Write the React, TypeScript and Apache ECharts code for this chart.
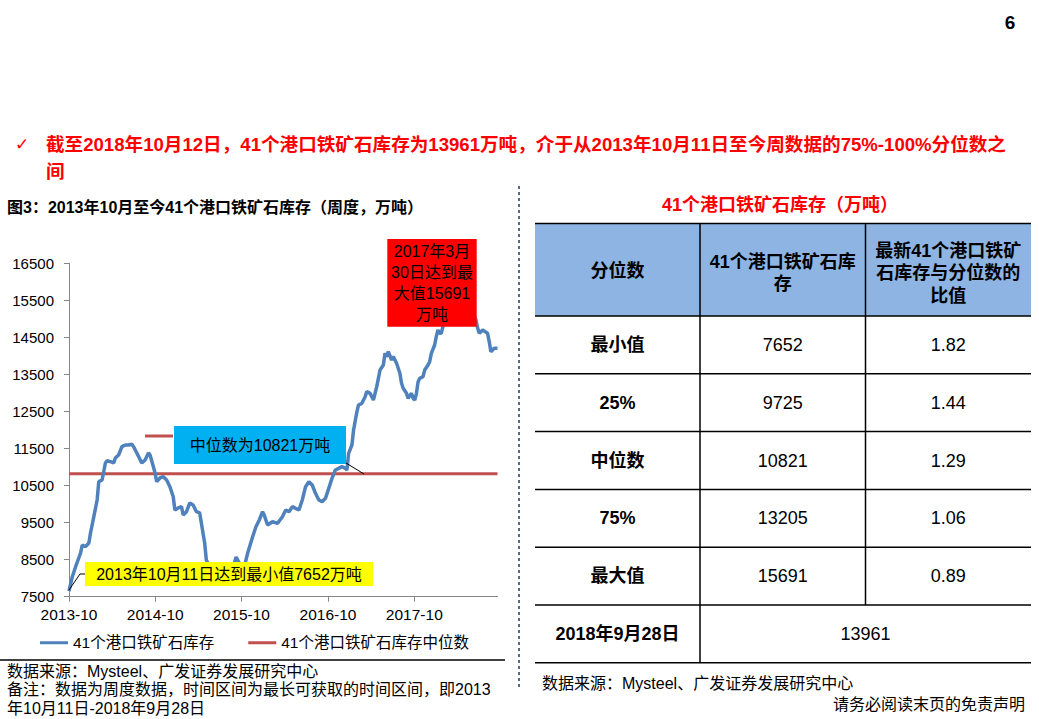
import React, { useEffect, useRef } from "react";
import * as echarts from "echarts";

// ---- Data ----
// weeks since 2013-10-11 and inventory (万吨)
const weekIndex = [
  0, 2, 4, 7, 8, 10, 12, 13, 15, 17,
  18, 20, 22, 23, 25, 27, 28, 30, 32, 34,
  36, 38, 39, 41, 44, 46, 48, 49, 51, 52,
  53, 55, 57, 59, 61, 63, 64, 66, 68, 69,
  71, 73, 75, 77, 79, 80, 82, 83, 85, 88,
  91, 95, 99, 101, 103, 106, 108, 111, 113, 115,
  117, 118, 120, 123, 126, 129, 131, 133, 135, 137,
  139, 141, 143, 145, 147, 149, 151, 153, 155, 157,
  159, 161, 163, 165, 167, 168, 169, 171, 172, 174,
  175, 177, 179, 180, 182, 184, 186, 188, 190, 191,
  192, 193, 195, 196, 198, 200, 201, 202, 204, 205,
  207, 208, 209, 210, 211, 212, 214, 215, 217, 218,
  219, 221, 222, 223, 224, 225, 226, 229, 232, 235,
  239, 242, 246, 247, 248, 250, 253, 254, 255, 257,
  259,
];
const inventory = [
  7652, 8040, 8310, 8680, 8896, 8850, 8950, 9220, 9660, 10110,
  10605, 10650, 11110, 11170, 11145, 11110, 11245, 11325, 11550, 11595,
  11595, 11620, 11550, 11380, 11110, 11190, 11380, 11325, 11010, 10840,
  10605, 10705, 10740, 10650, 10470, 10200, 9840, 9895, 9930, 9705,
  9795, 10030, 9975, 9795, 9760, 9490, 8950, 8490, 8310, 8110,
  8000, 8060, 8275, 8570, 8400, 8310, 8680, 9120, 9390, 9570,
  9795, 9705, 9435, 9525, 9480, 9660, 9840, 9795, 9930, 9885,
  9840, 10110, 10470, 10605, 10515, 10290, 10110, 10065, 10155, 10425,
  10700, 10920, 10965, 11010, 10965, 10920, 11370, 11595, 12000, 12490,
  12675, 12720, 12900, 13035, 12990, 12810, 13170, 13620, 13755, 14070,
  13980, 14115, 13890, 13980, 13800, 13530, 13260, 13125, 12990, 12855,
  12990, 12855, 12810, 12990, 13305, 13395, 13440, 13620, 13755, 13845,
  14070, 14295, 14520, 14700, 14610, 14610, 14790, 15240, 15510, 15691,
  15565, 15340, 14970, 14750, 14610, 14700, 14610, 14385, 14115, 14205,
  14205,
];
const medianValue = 10821;
const totalDays = 1813; // 2013-10-11 .. 2018-09-28
const xTickDays = [0, 365, 730, 1096, 1461];
const xTickLabels = ["2013-10", "2014-10", "2015-10", "2016-10", "2017-10"];
const seriesNames = ["41个港口铁矿石库存", "41个港口铁矿石库存中位数"];

const quantileLabels = ["最小值", "25%", "中位数", "75%", "最大值"];
const quantileValues = ["7652", "9725", "10821", "13205", "15691"];
const quantileRatios = ["1.82", "1.44", "1.29", "1.06", "0.89"];
const latestLabel = "2018年9月28日";
const latestValue = "13961";
const tableHeaders = ["分位数", "41个港口铁矿石库\n存", "最新41个港口铁矿\n石库存与分位数的\n比值"];

const FONT = '"Liberation Sans", "Noto Sans CJK SC", sans-serif';

function txt(text: string, x: number, y: number, o: any = {}) {
  return {
    type: "text",
    x,
    y,
    z: 20,
    style: {
      text,
      fill: o.fill || "#000",
      fontSize: o.size || 16,
      fontWeight: o.bold ? "bold" : "normal",
      fontFamily: o.family || FONT,
      textAlign: o.align || "left",
      align: o.align || "left",
      textVerticalAlign: "middle",
      verticalAlign: "middle",
      lineHeight: o.lh,
    },
  };
}
function ln(x1: number, y1: number, x2: number, y2: number, stroke = "#000", w = 1, dash?: number[]) {
  return {
    type: "line",
    z: 20,
    shape: { x1, y1, x2, y2 },
    style: { stroke, lineWidth: w, lineDash: dash },
  };
}
function rc(x: number, y: number, width: number, height: number, fill: string) {
  return { type: "rect", z: 15, shape: { x, y, width, height }, style: { fill } };
}

export default function App() {
  const ref = useRef<HTMLDivElement>(null);
  useEffect(() => {
    if (!ref.current) return;
    const chart = echarts.init(ref.current, undefined, { renderer: "svg" });

    // table geometry
    const tL = 535, tR = 1031, c1 = 700, c2 = 865.5, hT = 223.5, hB = 316, rowH = 57.8;
    const colC = [(tL + c1) / 2, (c1 + c2) / 2, (c2 + tR) / 2];
    const tableG: any[] = [];
    tableG.push(rc(tL, hT, tR - tL, hB - hT, "#8DB4E2"));
    tableG.push(txt(tableHeaders[0], colC[0], 271, { bold: true, size: 18, align: "center" }));
    tableG.push(txt(tableHeaders[1], colC[1], 273, { bold: true, size: 18, align: "center", lh: 22.3 }));
    tableG.push(txt(tableHeaders[2], colC[2], 273, { bold: true, size: 18, align: "center", lh: 22.5 }));
    for (let i = 0; i <= 6; i++) {
      const y = hB + i * rowH;
      tableG.push(ln(tL, y, tR, y, "#000", 1.5));
    }
    tableG.push(ln(tL, hT, tR, hT, "#000", 1.5));
    tableG.push(ln(c1, hT, c1, hB + 6 * rowH, "#000", 1.5));
    tableG.push(ln(c2, hT, c2, hB + 5 * rowH, "#000", 1.5));
    quantileLabels.forEach((lab, i) => {
      const cy = hB + (i + 0.5) * rowH;
      tableG.push(txt(lab, colC[0], cy, { bold: true, size: 18, align: "center" }));
      tableG.push(txt(quantileValues[i], colC[1], cy, { size: 18, align: "center" }));
      tableG.push(txt(quantileRatios[i], colC[2], cy, { size: 18, align: "center" }));
    });
    const lastY = hB + 5.5 * rowH;
    tableG.push(txt(latestLabel, colC[0], lastY, { bold: true, size: 18, align: "center" }));
    tableG.push(txt(latestValue, (c1 + tR) / 2, lastY, { size: 18, align: "center" }));

    const option: any = {
      animation: false,
      backgroundColor: "#fff",
      grid: { left: 69, top: 263.3, width: 428.5, height: 333.4, containLabel: false },
      legend: {
        left: 40,
        top: 635,
        padding: 0,
        icon: "rect",
        itemWidth: 28,
        itemHeight: 3,
        itemGap: 34,
        textStyle: { fontFamily: FONT, fontSize: 15.5, color: "#000" },
        data: seriesNames,
      },
      xAxis: {
        type: "value",
        min: 0,
        max: totalDays,
        axisLine: { show: true, lineStyle: { color: "#868686", width: 1 } },
        axisTick: { show: true, length: 5, customValues: xTickDays, lineStyle: { color: "#868686" } },
        axisLabel: {
          customValues: xTickDays,
          fontFamily: FONT,
          fontSize: 15.5,
          color: "#000",
          margin: 10,
          formatter: (v: number) => {
            const i = xTickDays.indexOf(v);
            return i >= 0 ? xTickLabels[i] : "";
          },
        },
        splitLine: { show: false },
      },
      yAxis: {
        type: "value",
        min: 7500,
        max: 16500,
        interval: 1000,
        axisLine: { show: true, lineStyle: { color: "#868686", width: 1 } },
        axisTick: { show: true, length: 5, lineStyle: { color: "#868686" } },
        axisLabel: {
          fontFamily: FONT,
          fontSize: 15,
          color: "#000",
          margin: 15,
          formatter: (v: number) => String(v),
        },
        splitLine: { show: false },
      },
      series: [
        {
          name: seriesNames[0],
          type: "line",
          color: "#4F81BD",
          symbol: "none",
          lineStyle: { color: "#4F81BD", width: 3.5 },
          data: weekIndex.map((w, i) => [w * 7, inventory[i]]),
          z: 3,
        },
        {
          name: seriesNames[1],
          type: "line",
          color: "#C0504D",
          symbol: "none",
          lineStyle: { color: "#C0504D", width: 3 },
          data: [
            [0, medianValue],
            [totalDays, medianValue],
          ],
          z: 2,
        },
      ],
      graphic: [
        txt("6", 1010, 22, { bold: true, size: 19, align: "center" }),
        txt("✓", 22, 144, { fill: "#FF0000", size: 17, family: '"DejaVu Sans"', align: "center" }),
        txt(
          "截至2018年10月12日，41个港口铁矿石库存为13961万吨，介于从2013年10月11日至今周数据的75%-100%分位数之",
          46, 144, { fill: "#FF0000", bold: true, size: 18.6 }
        ),
        txt("间", 46, 171, { fill: "#FF0000", bold: true, size: 18.6 }),
        txt("图3：2013年10月至今41个港口铁矿石库存（周度，万吨）", 7, 207, { bold: true, size: 16 }),
        ln(519, 186, 519, 690, "#1F3864", 1.5, [3, 3]),
        // annotations
        rc(85, 562, 288, 24, "#FFFF00"),
        txt("2013年10月11日达到最小值7652万吨", 229, 574, { size: 16, align: "center" }),
        ln(85, 574, 80, 574, "#000", 1),
        ln(80, 574, 69, 590, "#000", 1),
        rc(174, 426, 172, 38, "#00B0F0"),
        txt("中位数为10821万吨", 260, 445, { size: 16, align: "center" }),
        ln(346, 463, 364, 474, "#000", 1),
        ln(145, 436, 173, 436, "#C0504D", 3),
        rc(387.3, 239, 89.4, 87.7, "#FF0000"),
        txt("2017年3月\n30日达到最\n大值15691\n万吨", 432, 283, { size: 16, align: "center", lh: 20.8 }),
        // footnotes left
        ln(0, 660, 505, 660, "#000", 1.5),
        txt("数据来源：Mysteel、广发证券发展研究中心", 7, 671, { size: 16 }),
        txt("备注：数据为周度数据，时间区间为最长可获取的时间区间，即2013", 7, 689.5, { size: 16 }),
        txt("年10月11日-2018年9月28日", 7, 708.5, { size: 16 }),
        // right side
        txt("41个港口铁矿石库存（万吨）", 780, 205, { fill: "#FF0000", bold: true, size: 18, align: "center" }),
        ...tableG,
        txt("数据来源：Mysteel、广发证券发展研究中心", 542, 683, { size: 16 }),
        txt("请务必阅读末页的免责声明", 1025, 704, { size: 16, align: "right" }),
      ],
    };
    chart.setOption(option);
    return () => chart.dispose();
  }, []);
  return (
    <div
      ref={ref}
      style={{ position: "fixed", left: 0, top: 0, width: 1039, height: 719, background: "#fff" }}
    />
  );
}
